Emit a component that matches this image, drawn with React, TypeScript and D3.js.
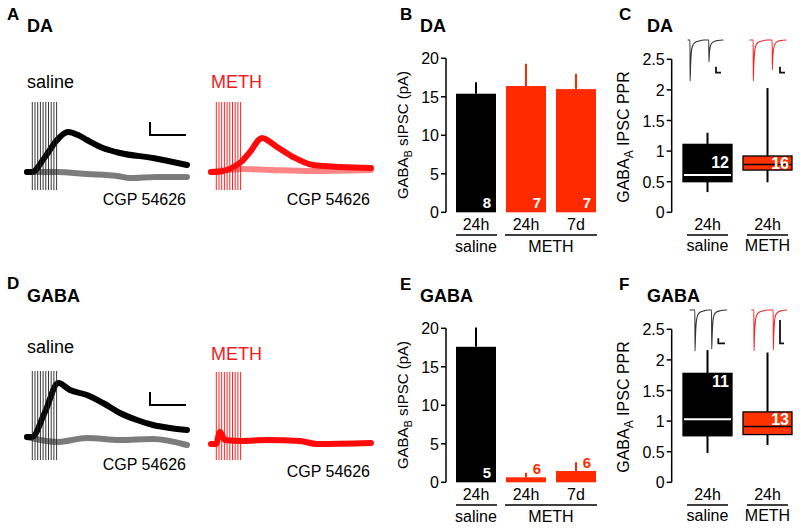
import React from 'react';
import * as d3 from 'd3';

const FONT = "'Liberation Sans', Arial, Helvetica, sans-serif";
const RED_TEXT = '#ee1c24';
const RED_BAR = '#ff2a00';
const RED_TRACE = '#ff0a0a';
const PINK_TRACE = '#ff8585';
const GRAY_TRACE = '#7c7c7c';

// ---------- Panels B / E : bar charts ----------
const barGroups = ['saline 24h', 'METH 24h', 'METH 7d'];
const barTimeLabels = ['24h', '24h', '7d'];
const barColors = ['#000000', RED_BAR, RED_BAR];
const barTicks = [0, 5, 10, 15, 20];
const daBarMeans = [15.4, 16.4, 16.0];
const daBarErrTop = [16.9, 19.3, 18.0];
const daBarN = ['8', '7', '7'];
const gabaBarMeans = [17.6, 0.65, 1.47];
const gabaBarErrTop = [20.1, 1.25, 2.6];
const gabaBarN = ['5', '6', '6'];

// ---------- Panels C / F : box plots ----------
const boxGroups = ['saline', 'METH'];
const boxColors = ['#000000', '#ff3300'];
const boxTicks = [0, 0.5, 1, 1.5, 2, 2.5];
const daBoxLow = [0.33, 0.49];
const daBoxQ1 = [0.5, 0.69];
const daBoxMed = [0.61, 0.78];
const daBoxQ3 = [1.11, 0.92];
const daBoxHigh = [1.3, 2.03];
const daBoxN = ['12', '16'];
const daBoxNAt = [0.72, 0.7];
const gabaBoxLow = [0.48, 0.61];
const gabaBoxQ1 = [0.76, 0.78];
const gabaBoxMed = [1.03, 0.91];
const gabaBoxQ3 = [1.78, 1.15];
const gabaBoxHigh = [2.16, 2.12];
const gabaBoxN = ['11', '13'];
const gabaBoxNAt = [1.55, 0.94];

// ---------- Panels A / D : traces [time ms, current] ----------
const daSalineTrace: [number, number][] = [[0, 0], [50, 0], [180, 15], [300, 32], [410, 40], [510, 37], [600, 32], [760, 24], [930, 19], [1260, 14], [1600, 7]];
const daSalineCgp: [number, number][] = [[0, 0], [300, 0], [600, -2], [900, -4], [1030, -6], [1300, -5], [1600, -5]];
const daMethTrace: [number, number][] = [[0, 0], [50, 0], [300, 10], [390, 20], [510, 34], [660, 25], [820, 15], [1020, 7], [1300, 5], [1600, 4]];
const daMethCgp: [number, number][] = [[0, 0], [300, 3], [600, 2], [1000, 1], [1600, 2]];
const gabaSalineTrace: [number, number][] = [[0, 0], [50, 0], [180, 25], [313, 54], [430, 47], [600, 42], [760, 34], [930, 24], [1100, 17], [1260, 12], [1430, 9], [1600, 7]];
const gabaSalineCgp: [number, number][] = [[0, 0], [300, -5], [600, -1], [930, -3], [1260, -2], [1600, -8]];
const gabaMethTrace: [number, number][] = [[0, 0], [50, 0], [90, 12], [140, 4], [300, 3], [560, 4], [890, 3], [1060, 0], [1600, 1]];
const stimTimes = [53, 80, 107, 134, 161, 188, 215, 242, 269, 296];

// ---------- Insets [time ms, current] ----------
const insetDaSaline: [number, number][] = [[0, 0], [2, 0], [2.1, -41], [2.6, -25], [3.3, -13], [4.5, -6], [7, -2.5], [11, -1], [16, 0], [20.8, 0], [20.9, -22], [21.4, -13], [22.2, -7], [23.5, -3.5], [26, -1.5], [30, -0.5], [35, 0]];
const insetDaMeth: [number, number][] = [[0, 0], [3.2, 0], [3.3, -41], [3.8, -25], [4.5, -13], [5.7, -6], [8, -2.5], [12, -1], [17, 0], [22.2, 0], [22.3, -30], [22.8, -17], [23.6, -9], [25, -4], [27.5, -1.5], [31, -0.5], [36, 0]];
const insetGabaSaline: [number, number][] = [[0, 0], [4.9, 0], [5, -41], [5.5, -25], [6.2, -13], [7.4, -6], [9.7, -2.5], [13.5, -1], [18, 0], [21.6, 0], [21.7, -39], [22.2, -24], [22.9, -12], [24.1, -5], [26.5, -2], [30.5, -0.7], [36.7, 0]];
const insetGabaMeth: [number, number][] = [[0, 0], [2.2, 0], [2.3, -41], [2.8, -25], [3.5, -13], [4.7, -6], [7, -2.5], [11, -1], [16, 0], [21.5, 0], [21.6, -40], [22.1, -24], [22.8, -12], [24, -5], [26.5, -2], [30, -0.7], [35, 0]];

type Pt = [number, number];

function Trace({ data, xs, ys, color, width }: { data: Pt[]; xs: any; ys: any; color: string; width: number }) {
  const line = d3.line<Pt>().x(d => xs(d[0])).y(d => ys(d[1])).curve(d3.curveMonotoneX);
  return <path d={line(data) || ''} fill="none" stroke={color} strokeWidth={width} strokeLinejoin="round" strokeLinecap="round" />;
}

function TracePanel({ x0, baseline, label, labelColor, main, cgp, mainColor, cgpColor, stimColor, artTop, artBottom, scaleBar }: any) {
  const xs = d3.scaleLinear().domain([0, 1600]).range([x0, x0 + 160]);
  const ys = d3.scaleLinear().domain([0, 100]).range([baseline, baseline - 100]);
  return (
    <g>
      <text x={x0} y={baseline - 84} fontSize={18} fill={labelColor} fontFamily={FONT}>{label}</text>
      {cgp && <Trace data={cgp} xs={xs} ys={ys} color={cgpColor} width={6} />}
      <Trace data={main} xs={xs} ys={ys} color={mainColor} width={6} />
      {stimTimes.map((t, i) => (
        <line key={i} x1={xs(t)} x2={xs(t)} y1={ys(artTop)} y2={ys(artBottom)} stroke={stimColor} strokeWidth={0.9} />
      ))}
      {scaleBar && (
        <path d={`M${xs(scaleBar[0])},${ys(scaleBar[1] + scaleBar[3])}V${ys(scaleBar[1])}H${xs(scaleBar[0] + scaleBar[2])}`} fill="none" stroke="#000" strokeWidth={2} />
      )}
      <text x={x0 + 159} y={baseline + 33} fontSize={16} textAnchor="end" fontFamily={FONT}>CGP 54626</text>
    </g>
  );
}

function Inset({ data, x0, baseline, color, bar }: any) {
  const xs = d3.scaleLinear().domain([0, 1]).range([x0, x0 + 1]);
  const ys = d3.scaleLinear().domain([0, -1]).range([baseline, baseline + 1]);
  return (
    <g>
      <Trace data={data} xs={xs} ys={ys} color={color} width={1.1} />
      <path d={`M${xs(bar[0])},${ys(bar[1] + bar[3])}V${ys(bar[1])}H${xs(bar[0] + bar[2])}`} fill="none" stroke="#111" strokeWidth={1.8} />
    </g>
  );
}

function BarPanel({ off, letter, title, means, errs, ns }: any) {
  const y = d3.scaleLinear().domain([0, 20]).range([212.3 + off, 58.3 + off]);
  const x = d3.scaleBand().domain(barGroups).range([451, 601]).paddingInner(0.2).paddingOuter(0.1);
  const bw = x.bandwidth();
  const axX = 446;
  return (
    <g fontFamily={FONT}>
      <text x={400} y={20 + off} fontSize={17} fontWeight="bold">{letter}</text>
      <text x={420} y={32 + off} fontSize={18} fontWeight="bold">{title}</text>
      <text transform={`translate(${408},${135 + off}) rotate(-90)`} textAnchor="middle" fontSize={15}>
        GABA<tspan fontSize={11} dy={4}>B</tspan><tspan dy={-4}> sIPSC (pA)</tspan>
      </text>
      <line x1={axX} x2={axX} y1={y(0)} y2={y(20)} stroke="#000" strokeWidth={1.5} />
      {barTicks.map(t => (
        <g key={t}>
          <line x1={axX - 5} x2={axX} y1={y(t)} y2={y(t)} stroke="#000" strokeWidth={1.5} />
          <text x={axX - 7} y={y(t) + 6} fontSize={16} textAnchor="end">{t}</text>
        </g>
      ))}
      {barGroups.map((g, i) => {
        const bx = x(g) as number;
        const h = y(0) - y(means[i]);
        const inside = h > 25;
        return (
          <g key={g}>
            <line x1={bx + bw / 2} x2={bx + bw / 2} y1={y(means[i])} y2={y(errs[i])} stroke={barColors[i]} strokeWidth={2} />
            <rect x={bx} y={y(means[i])} width={bw} height={h} fill={barColors[i]} />
            <text x={bx + bw - 5} y={inside ? y(0) - 4 : y(means[i]) - 3} fontSize={15} fontWeight="bold" textAnchor="end" fill={inside ? '#fff' : barColors[i]}>{ns[i]}</text>
            <text x={bx + bw / 2} y={230 + off} fontSize={16} textAnchor="middle">{barTimeLabels[i]}</text>
          </g>
        );
      })}
      {(() => {
        const s0 = x(barGroups[0]) as number;
        const m0 = x(barGroups[1]) as number;
        const m1 = (x(barGroups[2]) as number) + bw;
        return (
          <g>
            <line x1={s0} x2={s0 + bw + 1} y1={235 + off} y2={235 + off} stroke="#000" strokeWidth={1.5} />
            <line x1={m0 - 1} x2={m1 + 1} y1={235 + off} y2={235 + off} stroke="#000" strokeWidth={1.5} />
            <text x={s0 + bw / 2} y={251.5 + off} fontSize={16} textAnchor="middle">saline</text>
            <text x={(m0 + m1) / 2} y={251.5 + off} fontSize={16} textAnchor="middle">METH</text>
          </g>
        );
      })()}
    </g>
  );
}

function BoxPanel({ off, letter, title, lo, q1, med, q3, hi, ns, nAt }: any) {
  const y = d3.scaleLinear().domain([0, 2.5]).range([212.3 + off, 59.3 + off]);
  const x = d3.scaleBand().domain(boxGroups).range([683, 792]).paddingInner(11 / 60).paddingOuter(0);
  const bw = x.bandwidth();
  const axX = 671.7;
  return (
    <g fontFamily={FONT}>
      <text x={619} y={20 + off} fontSize={17} fontWeight="bold">{letter}</text>
      <text x={647} y={32 + off} fontSize={18} fontWeight="bold">{title}</text>
      <text transform={`translate(${629},${137 + off}) rotate(-90)`} textAnchor="middle" fontSize={16}>
        GABA<tspan fontSize={12} dy={4}>A</tspan><tspan dy={-4}> IPSC PPR</tspan>
      </text>
      <line x1={axX} x2={axX} y1={y(0)} y2={y(2.5)} stroke="#000" strokeWidth={1.5} />
      {boxTicks.map(t => (
        <g key={t}>
          <line x1={axX - 5} x2={axX} y1={y(t)} y2={y(t)} stroke="#000" strokeWidth={1.5} />
          <text x={axX - 7} y={y(t) + 6} fontSize={16} textAnchor="end">{String(t)}</text>
        </g>
      ))}
      {boxGroups.map((g, i) => {
        const bx = x(g) as number;
        const cx = bx + bw / 2;
        const isRed = i === 1;
        return (
          <g key={g}>
            <line x1={cx} x2={cx} y1={y(lo[i])} y2={y(hi[i])} stroke="#000" strokeWidth={2} />
            <rect x={bx} y={y(q3[i])} width={bw} height={y(q1[i]) - y(q3[i])} fill={boxColors[i]} stroke="#000" strokeWidth={1.3} />
            <line x1={bx + 1} x2={bx + bw - 1} y1={y(med[i])} y2={y(med[i])} stroke={isRed ? '#000' : '#fff'} strokeWidth={isRed ? 1.5 : 2} />
            <text x={bx + bw - 3} y={y(nAt[i])} fontSize={16} fontWeight="bold" textAnchor="end" fill="#fff">{ns[i]}</text>
            <text x={cx} y={230 + off} fontSize={16} textAnchor="middle">24h</text>
            <line x1={cx - 20.5} x2={cx + 20.5} y1={235 + off} y2={235 + off} stroke="#000" strokeWidth={1.5} />
            <text x={cx} y={251 + off} fontSize={16} textAnchor="middle">{g}</text>
          </g>
        );
      })}
    </g>
  );
}

export default function App() {
  return (
    <svg width={800} height={528} style={{ position: 'absolute', left: 0, top: 0, background: '#fff' }} fontFamily={FONT}>
      <rect width={800} height={528} fill="#fff" />
      {/* Panel A */}
      <text x={7} y={20} fontSize={17} fontWeight="bold">A</text>
      <text x={27} y={32} fontSize={18} fontWeight="bold">DA</text>
      <TracePanel x0={27} baseline={172} label="saline" labelColor="#000" main={daSalineTrace} cgp={daSalineCgp}
        mainColor="#000" cgpColor={GRAY_TRACE} stimColor="#222" artTop={70} artBottom={-18} scaleBar={[1230, 37, 360, 13]} />
      <TracePanel x0={211} baseline={172} label="METH" labelColor={RED_TEXT} main={daMethTrace} cgp={daMethCgp}
        mainColor={RED_TRACE} cgpColor={PINK_TRACE} stimColor={RED_TRACE} artTop={70} artBottom={-18} />
      {/* Panel D */}
      <text x={7} y={289} fontSize={17} fontWeight="bold">D</text>
      <text x={27} y={302} fontSize={18} fontWeight="bold">GABA</text>
      <TracePanel x0={27} baseline={437} label="saline" labelColor="#000" main={gabaSalineTrace} cgp={gabaSalineCgp}
        mainColor="#000" cgpColor={GRAY_TRACE} stimColor="#222" artTop={66} artBottom={-23} scaleBar={[1230, 32, 360, 13]} />
      <TracePanel x0={211} baseline={444} label="METH" labelColor={RED_TEXT} main={gabaMethTrace} cgp={null}
        mainColor={RED_TRACE} cgpColor={PINK_TRACE} stimColor={RED_TRACE} artTop={72} artBottom={-16} />

      <BarPanel off={0} letter="B" title="DA" means={daBarMeans} errs={daBarErrTop} ns={daBarN} />
      <BarPanel off={270} letter="E" title="GABA" means={gabaBarMeans} errs={gabaBarErrTop} ns={gabaBarN} />

      <BoxPanel off={0} letter="C" title="DA" lo={daBoxLow} q1={daBoxQ1} med={daBoxMed} q3={daBoxQ3} hi={daBoxHigh} ns={daBoxN} nAt={daBoxNAt} />
      <BoxPanel off={270} letter="F" title="GABA" lo={gabaBoxLow} q1={gabaBoxQ1} med={gabaBoxMed} q3={gabaBoxQ3} hi={gabaBoxHigh} ns={gabaBoxN} nAt={gabaBoxNAt} />

      <Inset data={insetDaSaline} x0={688} baseline={40} color="#333" bar={[28, -32.7, 5, 6]} />
      <Inset data={insetDaMeth} x0={750} baseline={40} color="#ee2a2a" bar={[30, -32.7, 5, 6]} />
      <Inset data={insetGabaSaline} x0={690} baseline={310} color="#333" bar={[28.3, -33.3, 6.7, 5]} />
      <Inset data={insetGabaMeth} x0={751.7} baseline={310} color="#ee2a2a" bar={[28.3, -33.3, 4, 23.3]} />
    </svg>
  );
}
